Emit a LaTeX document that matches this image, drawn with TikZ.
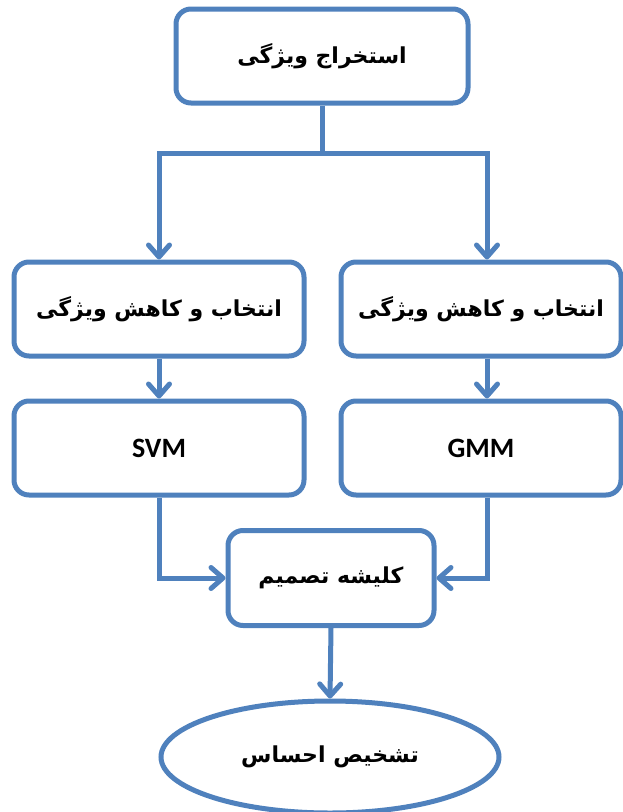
\documentclass[tikz,border=0pt]{standalone}
\usepackage{fontspec}
\setmainfont{Carlito}
\newfontfamily\fa[Script=Arabic]{DejaVu Sans}
\TeXXeTstate=1
\usetikzlibrary{arrows.meta,shapes.geometric}
\definecolor{boxblue}{RGB}{79,129,189}
\tikzset{
  box/.style={draw=boxblue, line width=5pt, rounded corners=15pt, rectangle, fill=white, align=center},
  oval/.style={draw=boxblue, line width=5pt, ellipse, fill=white, inner sep=0pt},
  conn/.style={draw=boxblue, line width=5pt},
  arr/.style={conn, -{Straight Barb[length=12pt,width=21pt,round]}},
  fatext/.style={font=\fa\bfseries\fontsize{22}{26}\selectfont},
  entext/.style={font=\bfseries\fontsize{28}{32}\selectfont}
}
\begin{document}
\begin{tikzpicture}[x=1pt,y=-1pt]
\useasboundingbox (0,0) rectangle (622,812);
\node[box, fatext, minimum width=292pt, minimum height=94pt] (top) at (322,56) {\beginR استخراج ویژگی\endR};
\node[box, fatext, minimum width=290pt, minimum height=94pt] (L1) at (159,309) {\beginR انتخاب و کاهش ویژگی\endR};
\node[box, fatext, minimum width=280pt, minimum height=94pt] (R1) at (481,309) {\beginR انتخاب و کاهش ویژگی\endR};
\node[box, entext, minimum width=290pt, minimum height=94pt] (SVM) at (159,448) {SVM};
\node[box, entext, minimum width=280pt, minimum height=94pt] (GMM) at (481,448) {GMM};
\node[box, fatext, minimum width=206pt, minimum height=95pt] (D) at (331,578) {\beginR کلیشه تصمیم\endR};
\node[oval, fatext, minimum width=338pt, minimum height=112pt] (E) at (330,757) {\beginR تشخیص احساس\endR};
\draw[conn] (top.south) -- ++(0,48) coordinate (br);
\draw[arr] (br) -| (L1.north);
\draw[arr] (br) -| ([xshift=6pt]R1.north);
\draw[arr] (L1.south) -- (SVM.north);
\draw[arr] ([xshift=6pt]R1.south) -- ([xshift=6pt]GMM.north);
\draw[arr] (SVM.south) |- (D.west);
\draw[arr] ([xshift=6pt]GMM.south) |- (D.east);
\draw[arr] (D.south) -- (E.north);
\end{tikzpicture}
\end{document}
